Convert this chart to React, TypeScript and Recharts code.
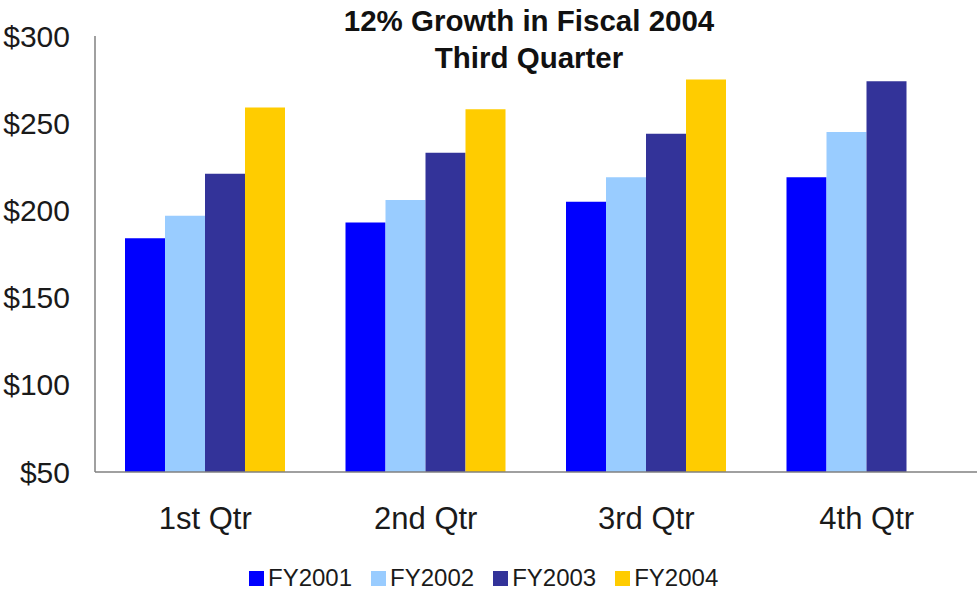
import { BarChart, Bar, XAxis, YAxis } from 'recharts';

const quarters = ['1st Qtr', '2nd Qtr', '3rd Qtr', '4th Qtr'];
const fy2001 = [184, 193, 205, 219];
const fy2002 = [197, 206, 219, 245];
const fy2003 = [221, 233, 244, 274];
const fy2004: (number | null)[] = [259, 258, 275, null];
const yTicks = [50, 100, 150, 200, 250, 300];

const seriesNames = ['FY2001', 'FY2002', 'FY2003', 'FY2004'];
const seriesColors = ['#0000FF', '#99CCFF', '#333399', '#FFCC00'];

const data = quarters.map((q, i) => ({
    name: q,
    FY2001: fy2001[i],
    FY2002: fy2002[i],
    FY2003: fy2003[i],
    FY2004: fy2004[i],
}));

const font = '"Liberation Sans", Arial, sans-serif';

export default function App() {
    return (
        <div style={{ position: 'absolute', left: 0, top: 0, width: 977, height: 601, background: '#fff', fontFamily: font }}>
            <BarChart
                width={977}
                height={601}
                data={data}
                margin={{ top: 36, right: 0, bottom: 0, left: 0 }}
                barCategoryGap={30}
                barGap={0}
            >
                <XAxis
                    dataKey="name"
                    height={129}
                    tickLine={false}
                    tickSize={0}
                    tickMargin={35}
                    axisLine={{ stroke: '#808080', strokeWidth: 1.5 }}
                    tick={{ fill: '#1a1a1a', fontSize: 31, fontFamily: font }}
                />
                <YAxis
                    width={95}
                    domain={[50, 300]}
                    ticks={yTicks}
                    allowDataOverflow
                    tickLine={false}
                    tickSize={0}
                    tickMargin={25}
                    axisLine={{ stroke: '#808080', strokeWidth: 1.5 }}
                    tickFormatter={(v: number) => `$${v}`}
                    tick={{ fill: '#1a1a1a', fontSize: 30, fontFamily: font }}
                />
                {seriesNames.map((s, i) => (
                    <Bar key={s} dataKey={s} fill={seriesColors[i]} isAnimationActive={false} />
                ))}
            </BarChart>

            <div style={{ position: 'absolute', left: 0, width: 1058, top: 2, textAlign: 'center', fontWeight: 'bold', fontSize: 29.5, lineHeight: '37px', color: '#111' }}>
                12% Growth in Fiscal 2004
                <br />
                Third Quarter
            </div>

            <div style={{ position: 'absolute', left: 249, top: 564, display: 'flex', alignItems: 'center', fontSize: 24, color: '#1a1a1a' }}>
                {seriesNames.map((s, i) => (
                    <div key={s} style={{ display: 'flex', alignItems: 'center', marginRight: 19 }}>
                        <span style={{ display: 'inline-block', width: 15, height: 15, background: seriesColors[i], marginRight: 4 }} />
                        <span>{s}</span>
                    </div>
                ))}
            </div>
        </div>
    );
}
